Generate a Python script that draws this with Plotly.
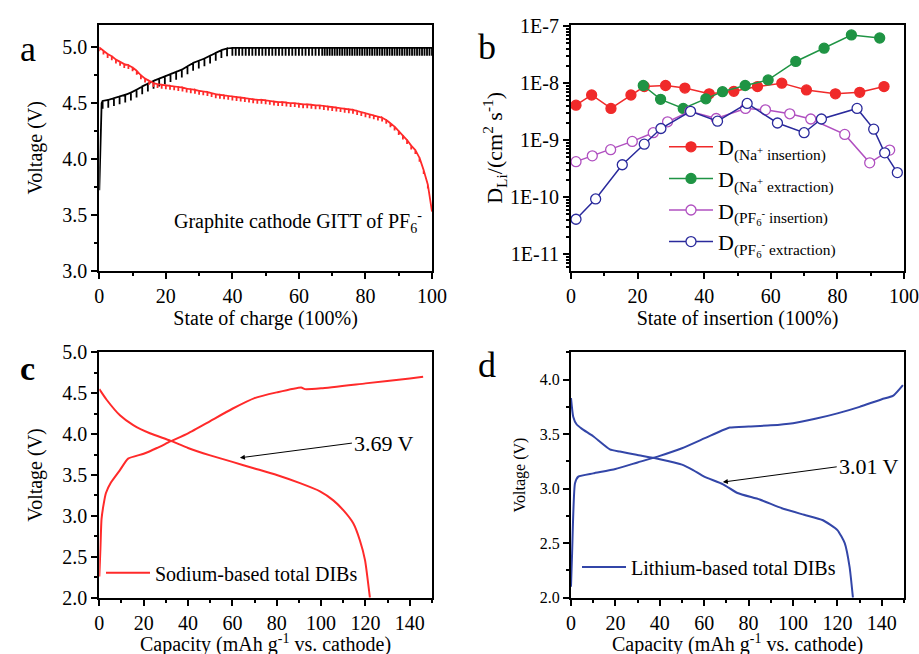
import plotly.graph_objects as go

# ---------------- panel a : GITT ----------------
a_red_soc = [0, 1.25, 2.5, 3.75, 5, 6.25, 7.5, 8.75, 10, 11.25, 12.5, 13.75, 15, 16.25, 17.5, 18.75,
             20, 21.25, 22.5, 23.75, 25, 26.25, 27.5, 28.75, 30, 31.25, 32.5, 33.75, 35, 36.25, 37.5, 38.75,
             40, 41.25, 42.5, 43.75, 45, 46.25, 47.5, 48.75, 50, 51.25, 52.5, 53.75, 55, 56.25, 57.5, 58.75,
             60, 61.25, 62.5, 63.75, 65, 66.25, 67.5, 68.75, 70, 71.25, 72.5, 73.75, 75, 76.25, 77.5, 78.75,
             80, 81.25, 82.5, 83.75, 85, 86.25, 87.5, 88.75, 90, 91.25, 92.5, 93.75, 95, 96.25, 97.5, 98.75, 100]
a_red_v = [5.00, 4.97, 4.94, 4.92, 4.89, 4.87, 4.85, 4.84, 4.82, 4.79,
           4.75, 4.72, 4.70, 4.68, 4.67, 4.665, 4.66, 4.655, 4.65, 4.645,
           4.64, 4.63, 4.625, 4.62, 4.61, 4.605, 4.60, 4.59, 4.58, 4.575,
           4.57, 4.565, 4.56, 4.555, 4.55, 4.545, 4.54, 4.535, 4.53, 4.53,
           4.525, 4.52, 4.515, 4.51, 4.51, 4.505, 4.50, 4.50, 4.495, 4.49,
           4.49, 4.485, 4.48, 4.48, 4.475, 4.47, 4.465, 4.46, 4.455, 4.45,
           4.445, 4.44, 4.43, 4.42, 4.41, 4.40, 4.39, 4.38, 4.37, 4.35,
           4.32, 4.29, 4.25, 4.21, 4.17, 4.12, 4.08, 4.01, 3.90, 3.77, 3.53]
a_red_relax = 0.035

a_blk_start_soc = [0, 0.3, 0.7]
a_blk_start_v = [3.72, 4.20, 4.50]
a_blk_soc = [1.0, 2.7, 4.4, 6.1, 7.8, 9.5, 11.2, 12.9, 14.6, 16.3, 18.0, 19.7, 21.4, 23.1, 24.8, 26.5,
             28.2, 29.9, 31.6, 33.3, 35.0, 36.7, 38.4,
             40, 41, 42, 43, 44, 45, 46, 47, 48, 49, 50, 51, 52, 53, 54, 55, 56, 57, 58, 59, 60, 61, 62,
             63, 64, 65, 66,
             67, 67.75, 68.5, 69.25, 70, 70.75, 71.5, 72.25, 73, 73.75, 74.5, 75.25, 76, 76.75, 77.5, 78.25,
             79, 79.75, 80.5, 81.25, 82, 82.75, 83.5, 84.25, 85, 85.75, 86.5, 87.25, 88, 88.75, 89.5, 90.25,
             91, 91.75, 92.5, 93.25, 94, 94.75, 95.5, 96.25, 97, 97.75, 98.5, 99.25, 100]
a_blk_v = [4.52, 4.53, 4.545, 4.56, 4.575, 4.595, 4.62, 4.65, 4.675, 4.70, 4.72, 4.74, 4.76, 4.78, 4.80, 4.83,
           4.86, 4.88, 4.90, 4.925, 4.95, 4.975, 4.99,
           4.995, 4.995, 4.995, 4.995, 4.995, 4.995, 4.995, 4.995, 4.995, 4.995, 4.995, 4.995, 4.995, 4.995,
           4.995, 4.995, 4.995, 4.995, 4.995, 4.995, 4.995, 4.995, 4.995, 4.995, 4.995, 4.995, 4.995,
           4.995, 4.995, 4.995, 4.995, 4.995, 4.995, 4.995, 4.995, 4.995, 4.995, 4.995, 4.995, 4.995, 4.995,
           4.995, 4.995, 4.995, 4.995, 4.995, 4.995, 4.995, 4.995, 4.995, 4.995, 4.995, 4.995, 4.995, 4.995,
           4.995, 4.995, 4.995, 4.995, 4.995, 4.995, 4.995, 4.995, 4.995, 4.995, 4.995, 4.995, 4.995, 4.995,
           4.995, 4.995, 4.995, 4.995, 4.995, 4.995]
a_blk_relax = 0.07

# ---------------- panel b : diffusion coefficients ----------------
b_na_ins_x = [1.5, 6.2, 12, 18, 22, 28.4, 34.2, 41.5, 48.9, 56, 63.3, 70.7, 79.4, 86.7, 94]
b_na_ins_d = [4.1e-9, 6.2e-9, 3.6e-9, 6.2e-9, 8.7e-9, 9.1e-9, 8.2e-9, 6.5e-9, 7.2e-9, 8.7e-9,
              1.0e-8, 7.6e-9, 6.5e-9, 6.9e-9, 8.7e-9]
b_na_ext_x = [21.7, 26.9, 33.7, 40.5, 45.5, 52.3, 59.2, 67.5, 76, 84.2, 92.7]
b_na_ext_d = [9.1e-9, 5.2e-9, 3.6e-9, 5.3e-9, 7.1e-9, 9.1e-9, 1.14e-8, 2.4e-8, 4.1e-8, 7.0e-8, 6.2e-8]
b_pf_ins_x = [1.5, 6.4, 11.9, 18.4, 24.7, 29, 35.7, 43.6, 52.4, 58.4, 65.7, 72, 82.2, 89.7, 95.7]
b_pf_ins_d = [4.2e-10, 5.3e-10, 6.8e-10, 9.5e-10, 1.35e-9, 2.1e-9, 3.2e-9, 2.4e-9, 3.6e-9, 3.4e-9,
              2.9e-9, 2.35e-9, 1.26e-9, 4.0e-10, 6.7e-10]
b_pf_ext_x = [1.5, 7.4, 15.4, 22, 27, 35.9, 44, 52.9, 62, 70, 75.2, 85.9, 90.9, 94.2, 98]
b_pf_ext_d = [4.1e-11, 9.3e-11, 3.7e-10, 8.5e-10, 1.6e-9, 3.2e-9, 2.15e-9, 4.4e-9, 2.0e-9, 1.35e-9,
              2.35e-9, 3.6e-9, 1.56e-9, 6.0e-10, 2.7e-10]
b_names = ["D<sub>(Na<sup>+</sup> insertion)</sub>",
           "D<sub>(Na<sup>+</sup> extraction)</sub>",
           "D<sub>(PF<sub>6</sub><sup>-</sup> insertion)</sub>",
           "D<sub>(PF<sub>6</sub><sup>-</sup> extraction)</sub>"]
b_ticks = [1e-11, 1e-10, 1e-9, 1e-8, 1e-7]
b_ticktext = ["1E-11", "1E-10", "1E-9", "1E-8", "1E-7"]

# ---------------- panel c : sodium DIB ----------------
c_chg_cap = [0, 0.5, 1, 2, 3, 5.3, 9.3, 13, 20, 26, 32, 40, 50, 60, 70, 80, 91, 92.7, 100, 120, 140, 146]
c_chg_v = [2.26, 2.6, 2.96, 3.15, 3.28, 3.41, 3.56, 3.70, 3.76, 3.83, 3.91, 4.01, 4.16, 4.31, 4.44, 4.51,
           4.57, 4.55, 4.56, 4.62, 4.68, 4.70]
c_dis_cap = [0, 3.3, 9.3, 15.3, 22.8, 32, 40, 50, 60, 70, 80, 90.5, 99.5, 105.5, 110, 114.5, 117.5, 119.8, 122]
c_dis_v = [4.55, 4.42, 4.23, 4.11, 4.01, 3.92, 3.83, 3.74, 3.66, 3.58, 3.50, 3.40, 3.30, 3.19, 3.07, 2.91,
           2.70, 2.46, 2.0]

# ---------------- panel d : lithium DIB ----------------
d_chg_cap = [0, 0.5, 1.8, 3.3, 10, 20, 30, 40, 50, 60, 65.5, 71.5, 80, 90, 100, 110, 120, 130, 140, 145, 149.5]
d_chg_v = [2.1, 2.41, 3.05, 3.11, 3.14, 3.18, 3.24, 3.30, 3.37, 3.46, 3.51, 3.56, 3.57, 3.58, 3.60, 3.64,
           3.69, 3.75, 3.82, 3.85, 3.95]
d_dis_cap = [0, 1, 2.5, 4.8, 10, 17.5, 22, 29.5, 40, 50, 55, 60, 68.5, 75, 85, 95, 105, 113.5, 120, 123.3,
             125.5, 127]
d_dis_v = [3.83, 3.66, 3.59, 3.55, 3.48, 3.36, 3.34, 3.31, 3.27, 3.22, 3.17, 3.11, 3.04, 2.96, 2.90, 2.82,
           2.76, 2.71, 2.62, 2.50, 2.28, 2.0]

FONT = "Liberation Serif"
RED = "#FF2A2A"
CAP_TITLE = "Capacity (mAh g<sup>-1</sup> vs. cathode)"


def gitt_path(soc, v, drop, last_tooth=True):
    xs, ys = [], []
    n = len(soc)
    for i, (s, val) in enumerate(zip(soc, v)):
        if i < n - 1 or last_tooth:
            xs += [s, s, s]
            ys += [val, val - drop, val]
        else:
            xs.append(s)
            ys.append(val)
    return xs, ys


fig = go.Figure()

# panel a
rx, ry = gitt_path(a_red_soc, a_red_v, a_red_relax, last_tooth=False)
bx, by = gitt_path(a_blk_soc, a_blk_v, a_blk_relax)
fig.add_trace(go.Scatter(x=a_blk_start_soc + bx, y=a_blk_start_v + by, mode="lines",
                         line=dict(color="black", width=1.8), showlegend=False, xaxis="x", yaxis="y"))
fig.add_trace(go.Scatter(x=rx, y=ry, mode="lines", line=dict(color=RED, width=1.8),
                         showlegend=False, xaxis="x", yaxis="y"))

# panel b
b_series = [(b_na_ins_x, b_na_ins_d, "#F02A2A", True),
            (b_na_ext_x, b_na_ext_d, "#1F9444", True),
            (b_pf_ins_x, b_pf_ins_d, "#B050C0", False),
            (b_pf_ext_x, b_pf_ext_d, "#2A2A9C", False)]
for (xx, yy, col, filled), nm in zip(b_series, b_names):
    fig.add_trace(go.Scatter(
        x=xx, y=yy, mode="lines+markers", name=nm,
        line=dict(color=col, width=1.5),
        marker=dict(symbol="circle", size=10, color=col if filled else "white",
                    line=dict(color=col, width=1.3)),
        xaxis="x2", yaxis="y2", legend="legend"))

# panel c
fig.add_trace(go.Scatter(x=c_chg_cap + [None] + c_dis_cap, y=c_chg_v + [None] + c_dis_v,
                         mode="lines", name="Sodium-based total DIBs",
                         line=dict(color=RED, width=2, shape="spline", smoothing=0.5),
                         xaxis="x3", yaxis="y3", legend="legend2"))
# panel d
fig.add_trace(go.Scatter(x=d_chg_cap + [None] + d_dis_cap, y=d_chg_v + [None] + d_dis_v,
                         mode="lines", name="Lithium-based total DIBs",
                         line=dict(color="#3346A8", width=2, shape="spline", smoothing=0.5),
                         xaxis="x4", yaxis="y4", legend="legend3"))


def ax(**kw):
    base = dict(showline=True, linecolor="black", linewidth=2, mirror=True, ticks="outside",
                ticklen=6, tickwidth=1.5, tickcolor="black", showgrid=False, zeroline=False,
                tickfont=dict(size=20, color="black", family=FONT),
                title_font=dict(size=20, color="black", family=FONT),
                minor=dict(ticks="outside", ticklen=3, tickwidth=1.5, tickcolor="black", showgrid=False),
                automargin=False)
    for k, v in kw.items():
        if k == "minor":
            base["minor"].update(v)
        else:
            base[k] = v
    return base


W, H = 919, 654
xa = [99.3 / W, 432 / W]
xb = [571 / W, 904 / W]
ytop = [1 - 270.7 / H, 1 - 25 / H]
ybot = [1 - 597.7 / H, 1 - 352.3 / H]

b_minor = [k * 10 ** e for e in range(-12, -6) for k in range(2, 10) if 10 ** -11.29 < k * 10 ** e < 10 ** -6.98]

fig.update_layout(
    width=W, height=H, margin=dict(l=0, r=0, t=0, b=0),
    paper_bgcolor="white", plot_bgcolor="white",
    font=dict(family=FONT, color="black"),
    xaxis=ax(domain=xa, anchor="y", range=[0, 100], tick0=0, dtick=20, minor=dict(dtick=10),
             title=dict(text="State of charge (100%)", standoff=4)),
    yaxis=ax(domain=ytop, anchor="x", range=[3.0, 5.2], tick0=3.0, dtick=0.5, tickformat=".1f",
             minor=dict(dtick=0.25), title=dict(text="Voltage (V)", standoff=14)),
    xaxis2=ax(domain=xb, anchor="y2", range=[0, 100], tick0=0, dtick=20, minor=dict(dtick=10),
              title=dict(text="State of insertion (100%)", standoff=4)),
    yaxis2=ax(domain=ytop, anchor="x2", type="log", range=[-11.29, -6.98],
              tickvals=b_ticks, ticktext=b_ticktext, minor=dict(tickvals=b_minor),
              title=dict(text="D<sub>Li</sub>/(cm<sup>2</sup> s<sup>-1</sup>)", standoff=0,
                         font=dict(size=22))),
    xaxis3=ax(domain=xa, anchor="y3", range=[0, 150], tickvals=[0, 20, 40, 60, 80, 100, 120, 140],
              minor=dict(dtick=10)),
    yaxis3=ax(domain=ybot, anchor="x3", range=[2.0, 5.0], tick0=2.0, dtick=0.5, tickformat=".1f",
              minor=dict(dtick=0.25), title=dict(text="Voltage (V)", standoff=14)),
    xaxis4=ax(domain=xb, anchor="y4", range=[0, 150], tickvals=[0, 20, 40, 60, 80, 100, 120, 140],
              minor=dict(dtick=10)),
    yaxis4=ax(domain=ybot, anchor="x4", range=[2.0, 4.25], tickvals=[2.0, 2.5, 3.0, 3.5, 4.0],
              ticktext=["2.0", "2.5", "3.0", "3.5", "4.0"], tickfont=dict(size=16, color="black", family=FONT),
              minor=dict(dtick=0.25), title=dict(text="Voltage (V)", standoff=10, font=dict(size=16))),
    legend=dict(x=664 / W, y=1 - 126 / H, xanchor="left", yanchor="top", bgcolor="rgba(0,0,0,0)",
                font=dict(size=22, family=FONT, color="black"), itemwidth=44, tracegroupgap=0),
    legend2=dict(x=101 / W, y=1 - 572.7 / H, xanchor="left", yanchor="middle", bgcolor="rgba(0,0,0,0)",
                 font=dict(size=20, family=FONT, color="black"), itemwidth=44),
    legend3=dict(x=577 / W, y=1 - 567 / H, xanchor="left", yanchor="middle", bgcolor="rgba(0,0,0,0)",
                 font=dict(size=20, family=FONT, color="black"), itemwidth=44),
    annotations=[
        dict(text="a", x=18 / W, y=1 - 27 / H, xref="paper", yref="paper", showarrow=False,
             font=dict(size=36, family=FONT, color="black")),
        dict(text="b", x=487 / W, y=1 - 25 / H, xref="paper", yref="paper", showarrow=False,
             font=dict(size=36, family=FONT, color="black")),
        dict(text="<b>c</b>", x=18 / W, y=1 - 369 / H, xref="paper", yref="paper", showarrow=False,
             font=dict(size=34, family=FONT, color="black")),
        dict(text="d", x=487 / W, y=1 - 365 / H, xref="paper", yref="paper", showarrow=False,
             font=dict(size=36, family=FONT, color="black")),
        dict(text=CAP_TITLE, x=(99.3 + 432) / 2 / W, y=1 - 643 / H, xref="paper", yref="paper",
             showarrow=False, xanchor="center", yanchor="middle",
             font=dict(size=20, family=FONT, color="black")),
        dict(text=CAP_TITLE, x=(571 + 904) / 2 / W, y=1 - 643 / H, xref="paper", yref="paper",
             showarrow=False, xanchor="center", yanchor="middle",
             font=dict(size=20, family=FONT, color="black")),
        dict(text="Graphite cathode GITT of PF<sub>6</sub><sup>-</sup>", x=21.9, y=3.44, xref="x", yref="y",
             xanchor="left", yanchor="middle", showarrow=False, font=dict(size=20, family=FONT, color="black")),
        dict(text="3.69 V", x=63.4, y=3.71, xref="x3", yref="y3", ax=113.9, ay=3.89, axref="x3", ayref="y3",
             xanchor="left", yanchor="middle", showarrow=True, arrowhead=2, arrowsize=1, arrowwidth=1,
             arrowcolor="black", font=dict(size=22, family=FONT, color="black")),
        dict(text="3.01 V", x=68.4, y=3.06, xref="x4", yref="y4", ax=119.7, ay=3.20, axref="x4", ayref="y4",
             xanchor="left", yanchor="middle", showarrow=True, arrowhead=2, arrowsize=1, arrowwidth=1,
             arrowcolor="black", font=dict(size=22, family=FONT, color="black")),
    ],
)

fig.write_html("out.html")
